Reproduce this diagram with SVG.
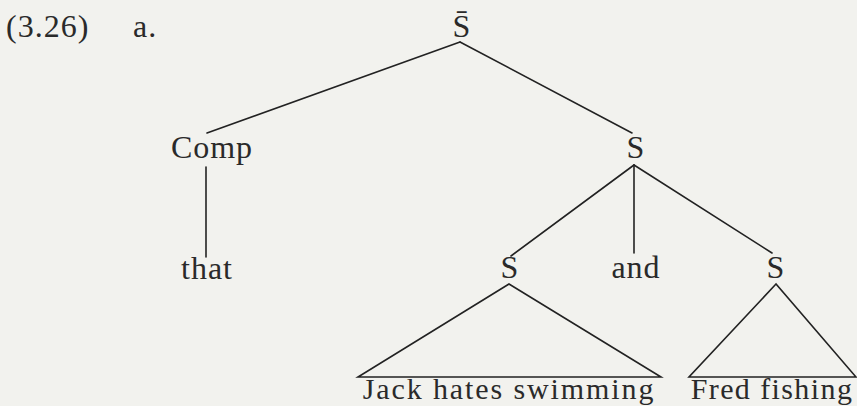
<svg xmlns="http://www.w3.org/2000/svg" width="857" height="406" viewBox="0 0 857 406">
  <style>
    .lbl { font-family: "Liberation Serif", "Times New Roman", serif; font-size: 32px; letter-spacing: 1px; fill: #2a2a2a; }
    .mid { text-anchor: middle; }
    .leaf { font-size: 30px; letter-spacing: 1.9px; }
    .edge { stroke: #222; stroke-width: 1.6; fill: none; stroke-linecap: round; stroke-linejoin: miter; }
  </style>
  <rect width="857" height="406" fill="#f2f2ee"/>

  <!-- example number -->
  <g id="label">
    <text class="lbl" x="6" y="37">(3.26)</text>
    <text class="lbl" x="133" y="37">a.</text>
  </g>

  <!-- tree branches -->
  <g id="connectors">
    <line class="edge" x1="460" y1="42" x2="207" y2="133"/>
    <line class="edge" x1="460" y1="42" x2="632" y2="133"/>
    <line class="edge" x1="206" y1="167" x2="206" y2="257"/>
    <line class="edge" x1="634" y1="165" x2="511" y2="256"/>
    <line class="edge" x1="634" y1="165" x2="634" y2="253"/>
    <line class="edge" x1="634" y1="165" x2="772" y2="253"/>
    <polygon class="edge" points="509,284 358,377 661,377"/>
    <polygon class="edge" points="776,284 689,377 856,377"/>
  </g>

  <g id="sbar"><text class="lbl mid" x="462" y="37">S̄</text></g>
  <g id="comp"><text class="lbl mid" x="212" y="158">Comp</text></g>
  <g id="s-top"><text class="lbl mid" x="636" y="158">S</text></g>
  <g id="that"><text class="lbl mid" x="207" y="279">that</text></g>
  <g id="s-left"><text class="lbl mid" x="510" y="278">S</text></g>
  <g id="and"><text class="lbl mid" x="636" y="278">and</text></g>
  <g id="s-right"><text class="lbl mid" x="776" y="278">S</text></g>
  <g id="jack"><text class="lbl leaf mid" x="509" y="399">Jack hates swimming</text></g>
  <g id="fred"><text class="lbl leaf mid" x="772" y="399" style="letter-spacing:1.4px">Fred fishing</text></g>
</svg>
